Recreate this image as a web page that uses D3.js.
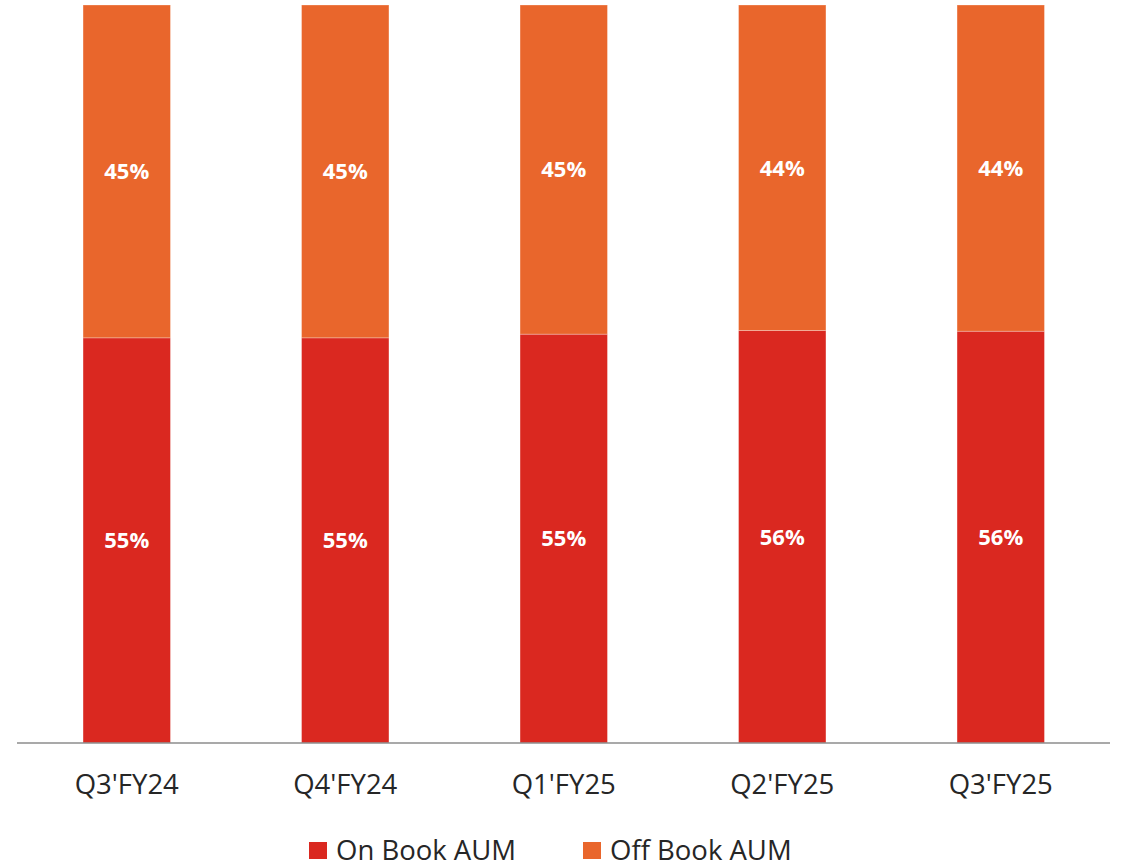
<!DOCTYPE html>
<html>
<head>
<meta charset="utf-8">
<script src="https://cdn.jsdelivr.net/npm/d3@7"></script>
<style>
  body { margin: 0; background: #fff; }
  text { font-family: "Open Sans", sans-serif; }
</style>
</head>
<body>
<div class="chart"></div>
<script>
const w = 1122;
const h = 866;

// data (share of AUM, %)
const quarters = ["Q3'FY24", "Q4'FY24", "Q1'FY25", "Q2'FY25", "Q3'FY25"];
const onBook = [54.9, 54.9, 55.4, 55.9, 55.8];
const offBook = [45.1, 45.1, 44.6, 44.1, 44.2];
const onLabels = ["55%", "55%", "55%", "56%", "56%"];
const offLabels = ["45%", "45%", "45%", "44%", "44%"];
const seriesNames = ["On Book AUM", "Off Book AUM"];
const colors = ["#da2820", "#e9662c"];

let svg = d3.select(".chart")
    .append("svg")
    .attr("width", w)
    .attr("height", h);

let x = d3.scaleBand()
    .domain(quarters)
    .range([17.5, 1110])
    .paddingInner(0.6)
    .paddingOuter(0.3);

let y = d3.scaleLinear()
    .domain([0, 100])
    .range([743, 5]);

let rows = quarters.map((q, i) => ({
    q: q, on: onBook[i], off: offBook[i], onLabel: onLabels[i], offLabel: offLabels[i]
}));

let stack = d3.stack().keys(["on", "off"])(rows);

let layers = svg.selectAll("g.layer")
    .data(stack)
    .enter()
    .append("g")
    .attr("class", "layer")
    .attr("fill", (d, i) => colors[i]);

layers.selectAll("rect")
    .data(d => d)
    .enter()
    .append("rect")
    .attr("x", d => x(d.data.q))
    .attr("width", x.bandwidth())
    .attr("y", d => y(d[1]))
    .attr("height", d => y(d[0]) - y(d[1]))
    .attr("stroke", "#fff")
    .attr("stroke-opacity", 0.35)
    .attr("stroke-width", 0.8);

// value labels
layers.selectAll("text")
    .data((d, i) => d.map(s => ({s: s, key: i})))
    .enter()
    .append("text")
    .attr("x", d => x(d.s.data.q) + x.bandwidth() / 2)
    .attr("y", d => (y(d.s[0]) + y(d.s[1])) / 2)
    .attr("dy", "0.36em")
    .attr("text-anchor", "middle")
    .attr("fill", "#fff")
    .style("font-weight", "bold")
    .style("font-size", "22px")
    .text(d => d.key === 0 ? d.s.data.onLabel : d.s.data.offLabel);

// baseline
svg.append("line")
    .attr("x1", 17)
    .attr("x2", 1110)
    .attr("y1", y(0))
    .attr("y2", y(0))
    .attr("stroke", "#8c8c8c")
    .attr("stroke-width", 1.6);

// category axis
let xAxis = svg.append("g")
    .attr("transform", "translate(0," + y(0) + ")")
    .call(d3.axisBottom(x).tickSize(0).tickPadding(0));
xAxis.select(".domain").remove();
xAxis.selectAll("text")
    .attr("y", 51)
    .attr("dy", 0)
    .style("font-family", "'Open Sans', sans-serif")
    .style("font-size", "27.5px")
    .attr("fill", "#262626");

// legend
let legendX = [309, 583];
let legend = svg.selectAll("g.legend")
    .data(seriesNames)
    .enter()
    .append("g")
    .attr("class", "legend")
    .attr("transform", (d, i) => "translate(" + legendX[i] + ",842)");

legend.append("rect")
    .attr("width", 18)
    .attr("height", 17)
    .attr("fill", (d, i) => colors[i]);

legend.append("text")
    .attr("x", 27)
    .attr("y", 17.5)
    .style("font-size", "27.5px")
    .attr("fill", "#262626")
    .text(d => d);
</script>
</body>
</html>
